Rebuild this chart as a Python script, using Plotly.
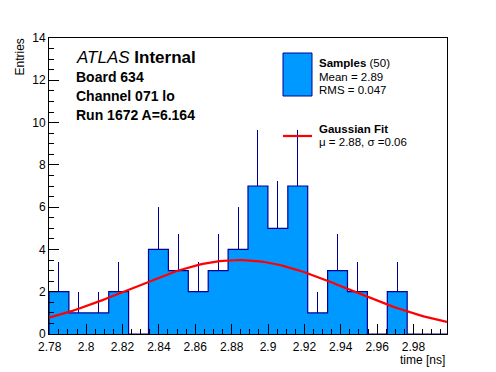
import numpy as np
import plotly.graph_objects as go

# ---- data ----
x_min = 2.7796
bin_width = 0.01094
counts = [2, 1, 1, 2, 0, 4, 3, 2, 3, 4, 7, 5, 7, 1, 3, 2, 0, 2, 0, 0]
fit_amp = 3.5
fit_mu = 2.884
fit_sigma = 0.06
x_tick_vals = [2.78, 2.80, 2.82, 2.84, 2.86, 2.88, 2.90, 2.92, 2.94, 2.96, 2.98]
x_tick_text = ["2.78", "2.8", "2.82", "2.84", "2.86", "2.88", "2.9", "2.92", "2.94", "2.96", "2.98"]
y_tick_vals = [0, 2, 4, 6, 8, 10, 12, 14]

n_bins = len(counts)
edges = [x_min + i * bin_width for i in range(n_bins + 1)]
x_max = edges[-1]
centers = [0.5 * (edges[i] + edges[i + 1]) for i in range(n_bins)]
errs = [float(np.sqrt(c)) for c in counts]

W, H = 496, 372
L, R, T, B = 49, 49, 38, 38
PW, PH = W - L - R, H - T - B

FILL = "#0099ff"
EDGE = "#000099"
FONT = "Liberation Sans, Arial, Helvetica, sans-serif"


def px(xp):
    return (xp - L) / PW


def py(yp):
    return (H - B - yp) / PH


fig = go.Figure()

fig.add_trace(go.Bar(
    x=centers, y=counts, width=bin_width,
    marker=dict(color=FILL, line=dict(width=0)),
    error_y=dict(type="data", symmetric=False, array=errs,
                 arrayminus=[0] * n_bins, color=EDGE, thickness=1, width=0),
    showlegend=False, hoverinfo="skip",
))

# step outline
step_x = [edges[0]] + edges
step_y = [0] + counts + [0]
fig.add_trace(go.Scatter(
    x=step_x, y=step_y, mode="lines", line=dict(color=EDGE, width=1.2, shape="hv"),
    showlegend=False, hoverinfo="skip",
))

# gaussian fit curve from fit parameters
fx = np.linspace(x_min, x_max, 120)
fy = fit_amp * np.exp(-0.5 * ((fx - fit_mu) / fit_sigma) ** 2)
fig.add_trace(go.Scatter(
    x=fx, y=fy, mode="lines", line=dict(color="#ff0000", width=2.2),
    showlegend=False, hoverinfo="skip",
))

annotations = []


def txt(text, xp, yp, size, xanchor="left"):
    annotations.append(dict(
        text=text, x=px(xp), y=py(yp), xref="paper", yref="paper",
        xanchor=xanchor, yanchor="middle", showarrow=False,
        font=dict(family=FONT, size=size, color="black"),
    ))


txt("<i>ATLAS</i> <b>Internal</b>", 74, 58, 17)
txt("<b>Board 634</b>", 74, 77, 14)
txt("<b>Channel 071 lo</b>", 74, 96, 14)
txt("<b>Run 1672 A=6.164</b>", 74, 115, 14)

txt("<b>Samples</b> (50)", 317, 63, 11.5)
txt("Mean = 2.89", 317, 77, 11.5)
txt("RMS = 0.047", 317, 90, 11.5)
txt("<b>Gaussian Fit</b>", 317, 129, 11.5)
txt("\u03bc = 2.88, \u03c3 =0.06", 317, 142, 11.5)

txt("time [ns]", 447, 360, 12, xanchor="right")

annotations.append(dict(
    text="Entries", x=px(19), y=py(37), xref="paper", yref="paper",
    xanchor="center", yanchor="top", textangle=-90, showarrow=False,
    font=dict(family=FONT, size=12, color="black"),
))

shapes = [
    dict(type="rect", xref="paper", yref="paper",
         x0=px(283), x1=px(312), y0=py(96), y1=py(53),
         fillcolor=FILL, line=dict(color=EDGE, width=1)),
    dict(type="line", xref="paper", yref="paper",
         x0=px(283), x1=px(312), y0=py(136), y1=py(136),
         line=dict(color="#ff0000", width=2.2)),
]

fig.update_layout(
    width=W, height=H,
    margin=dict(l=L, r=R, t=T, b=B, pad=0, autoexpand=False),
    paper_bgcolor="white", plot_bgcolor="white",
    bargap=0, showlegend=False,
    annotations=annotations, shapes=shapes,
    font=dict(family=FONT, size=12, color="black"),
)

fig.update_xaxes(
    range=[x_min, x_max], showgrid=False, zeroline=False, automargin=False,
    showline=True, linecolor="black", linewidth=1, mirror=True,
    tickmode="array", tickvals=x_tick_vals, ticktext=x_tick_text,
    ticks="inside", ticklen=10, tickcolor="black", tickwidth=1,
    ticklabelstandoff=2,
    tickfont=dict(family=FONT, size=12, color="black"),
    minor=dict(tickmode="linear", tick0=2.78, dtick=0.005, ticks="inside",
               ticklen=5, tickcolor="black", tickwidth=1, showgrid=False),
)
fig.update_yaxes(
    range=[0, 14], showgrid=False, zeroline=False, automargin=False,
    showline=True, linecolor="black", linewidth=1, mirror=True,
    tickmode="array", tickvals=y_tick_vals,
    ticks="inside", ticklen=10, tickcolor="black", tickwidth=1,
    tickfont=dict(family=FONT, size=12, color="black"),
    minor=dict(tickmode="linear", tick0=0, dtick=0.5, ticks="inside",
               ticklen=5, tickcolor="black", tickwidth=1, showgrid=False),
)

fig.write_html(
    "out.html",
    config={"displayModeBar": False},
    post_script="document.body.style.margin='0px';document.body.style.overflow='hidden';",
)
